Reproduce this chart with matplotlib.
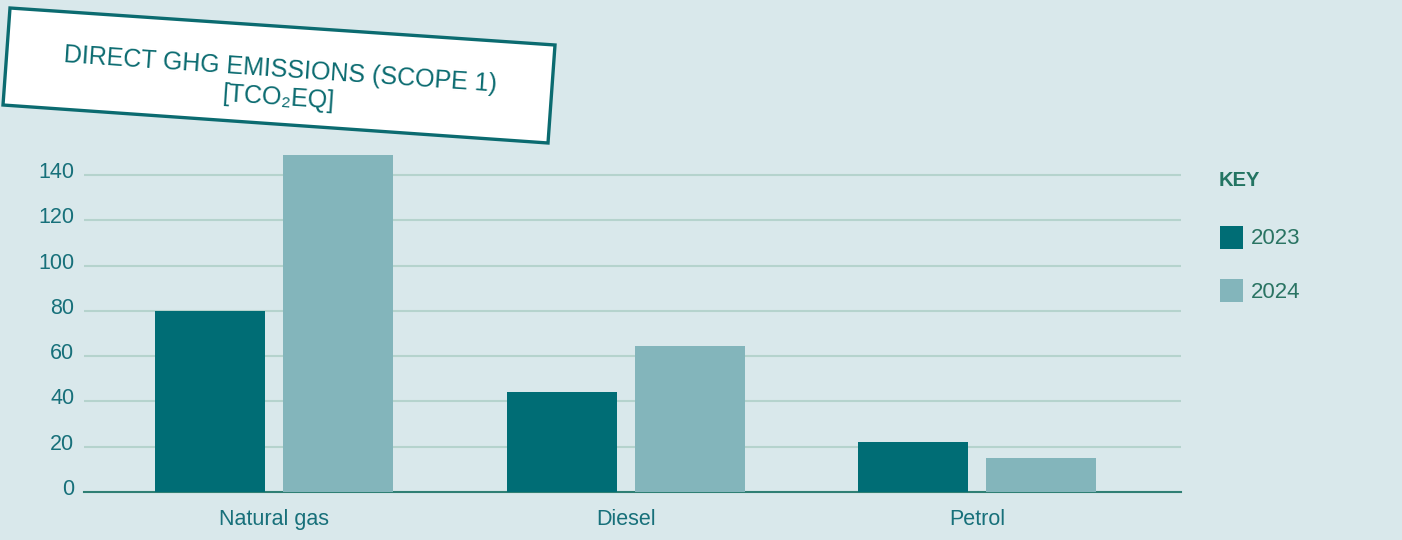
import numpy as np
import matplotlib.pyplot as plt
from matplotlib.patches import Polygon, Rectangle
import matplotlib.transforms as mtransforms

plt.rcParams['font.family'] = ['Liberation Sans', 'DejaVu Sans']

categories = ["Natural gas", "Diesel", "Petrol"]
years = ["2023", "2024"]
vals_2023 = [80, 44, 22]
vals_2024 = [149, 64.5, 15]
yticks = [0, 20, 40, 60, 80, 100, 120, 140]

BG = "#d9e8eb"
DARK = "#006d75"
LIGHT = "#83b5bb"
TXT = "#17707a"
GRID = "#b5d3cd"

fig = plt.figure(figsize=(14.02, 5.40), dpi=100)
fig.patch.set_facecolor(BG)

ax = fig.add_axes([0.0599, 0.0889, 0.7825, 0.6289])
ax.set_facecolor(BG)
x = np.arange(len(categories))
w = 0.313
off = 0.182
ax.bar(x - off, vals_2023, w, color=DARK, zorder=3)
ax.bar(x + off, vals_2024, w, color=LIGHT, zorder=3)
ax.set_xlim(-0.541, 2.58)
ax.set_ylim(0, 150)

for t in yticks[1:]:
    ax.axhline(t, color=GRID, lw=1.5, zorder=1)
for s in ["top", "right", "left"]:
    ax.spines[s].set_visible(False)
ax.spines["bottom"].set_color("#2f7f74")
ax.spines["bottom"].set_linewidth(1.5)

ax.set_yticks(yticks)
ax.set_yticklabels([str(t) for t in yticks], fontsize=15.5, color=TXT)
ax.tick_params(axis="y", length=0, pad=7)
shift = mtransforms.ScaledTranslation(0, -3 / 100, fig.dpi_scale_trans)
for lab in ax.get_yticklabels():
    lab.set_verticalalignment("baseline")
    lab.set_transform(lab.get_transform() + shift)

ax.set_xticks(x)
ax.set_xticklabels(categories, fontsize=15.5, color=TXT)
ax.tick_params(axis="x", length=0, pad=12)

# overlay in pixel coordinates for title box and key
ov = fig.add_axes([0, 0, 1, 1], zorder=5)
ov.set_xlim(0, 1402)
ov.set_ylim(540, 0)
ov.axis("off")
ov.patch.set_alpha(0)

box = Polygon([(10, 8), (555, 45), (548, 143), (3, 105)], closed=True,
              facecolor="white", edgecolor="#0b6b70", lw=2.4)
ov.add_patch(box)
ov.text(279, 84, "DIRECT GHG EMISSIONS (SCOPE 1)\n[TCO\u2082EQ]", rotation=-3.9,
        rotation_mode="anchor", ha="center", va="center", fontsize=18,
        color="#0b6b70", linespacing=1.2)

ov.text(1219, 181, "KEY", fontsize=14.5, fontweight="bold", color="#237462",
        va="center", ha="left")
colors = [DARK, LIGHT]
for i, (yr, c) in enumerate(zip(years, colors)):
    yc = 237 + i * 53
    ov.add_patch(Rectangle((1220, yc - 11.5), 23, 23, facecolor=c, edgecolor="none"))
    ov.text(1251, yc + 2, yr, fontsize=16, color="#2a7463", va="center", ha="left")

fig.savefig("out.png", dpi=100, facecolor=BG)
